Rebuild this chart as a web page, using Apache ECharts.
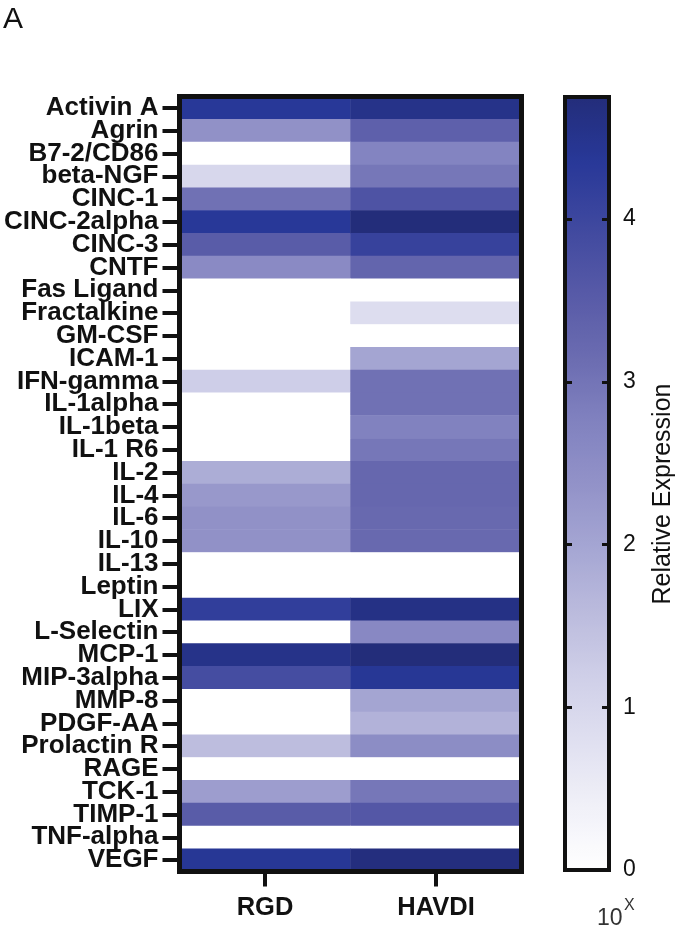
<!DOCTYPE html>
<html>
<head>
<meta charset="utf-8">
<script src="https://cdn.jsdelivr.net/npm/echarts@6/dist/echarts.min.js"></script>
<style>
html,body{margin:0;padding:0;background:#fff;}
#chart{width:688px;height:934px;}
</style>
</head>
<body>
<div id="chart"></div>
<script>
const categories = ['Activin A','Agrin','B7-2/CD86','beta-NGF','CINC-1','CINC-2alpha','CINC-3','CNTF','Fas Ligand','Fractalkine','GM-CSF','ICAM-1','IFN-gamma','IL-1alpha','IL-1beta','IL-1 R6','IL-2','IL-4','IL-6','IL-10','IL-13','Leptin','LIX','L-Selectin','MCP-1','MIP-3alpha','MMP-8','PDGF-AA','Prolactin R','RAGE','TCK-1','TIMP-1','TNF-alpha','VEGF'];
const groups = ['RGD','HAVDI'];
const rgdValues   = [4.35,2.4,0,1.0,3.05,4.35,3.5,2.55,0,0,0,0,1.2,0,0,0,1.85,2.25,2.4,2.4,0,0,4.2,0,4.55,3.85,0,0,1.55,0,2.15,3.5,0,4.4];
const havdiValues = [4.55,3.4,2.7,2.95,3.7,4.75,4.1,3.3,0,0.85,0,2.0,3.05,3.05,2.75,2.95,3.25,3.25,3.2,3.2,0,0,4.6,2.6,4.75,4.4,2.0,1.75,2.5,0,2.95,3.6,0,4.7];
const colorMax = 4.75;
const palette = ['#ffffff','#f0f0f8','#e0e0f0','#cfcfe8','#bbbbdd','#a5a6d3','#9292c8','#8081bf','#6a6bb0','#5659a7','#3f489f','#283898','#232d7a'];

const data = [];
categories.forEach((c, i) => {
  data.push([0, i, rgdValues[i]]);
  data.push([1, i, havdiValues[i]]);
});

const chart = echarts.init(document.getElementById('chart'));
const font = 'Liberation Sans, Arial, sans-serif';
chart.setOption({
  animation: false,
  backgroundColor: '#fff',
  grid: [
    {left: 179.5, top: 96.5, width: 342, height: 775, show: true, borderColor: '#111', borderWidth: 5, backgroundColor: 'transparent', z: 5},
    {left: 565, top: 97, width: 44, height: 773, show: true, borderColor: '#111', borderWidth: 4, backgroundColor: 'transparent', zlevel: 1, z: 10}
  ],
  xAxis: [
    {type: 'category', data: groups, gridIndex: 0, position: 'bottom',
     axisLine: {show: false},
     axisTick: {show: true, alignWithLabel: true, length: 15, lineStyle: {color: '#111', width: 4}},
     axisLabel: {margin: 23, fontFamily: font, fontWeight: 'bold', fontSize: 25.5, color: '#111'},
     splitLine: {show: false}},
    {type: 'value', gridIndex: 1, show: false, min: 0, max: 1}
  ],
  yAxis: [
    {type: 'category', data: categories, inverse: true, gridIndex: 0,
     axisLine: {show: false},
     axisTick: {show: true, alignWithLabel: true, length: 17, lineStyle: {color: '#111', width: 4}},
     axisLabel: {interval: 0, margin: 21, fontFamily: font, fontWeight: 'bold', fontSize: 26, color: '#111'},
     splitLine: {show: false}},
    {type: 'value', gridIndex: 1, position: 'right', min: 0, max: colorMax, interval: 1, zlevel: 1, z: 12,
     axisLine: {show: false, onZero: false},
     axisTick: {show: true, inside: true, length: 7, lineStyle: {color: '#111', width: 3}},
     axisLabel: {margin: 14, fontFamily: font, fontSize: 23, color: '#111', showMaxLabel: false},
     splitLine: {show: false}},
    {type: 'value', gridIndex: 1, position: 'left', min: 0, max: colorMax, interval: 1, zlevel: 1, z: 12,
     axisLine: {show: false, onZero: false},
     axisTick: {show: true, inside: true, length: 7, lineStyle: {color: '#111', width: 3}},
     axisLabel: {show: false},
     splitLine: {show: false}}
  ],
  visualMap: {
    type: 'continuous', min: 0, max: colorMax, calculable: false, orient: 'vertical',
    left: 565, top: 97, itemWidth: 44, itemHeight: 773, padding: 0, text: null, showLabel: false,
    seriesIndex: 0, z: 1,
    inRange: {color: palette},
    textStyle: {color: 'transparent'}
  },
  series: [{
    type: 'heatmap', xAxisIndex: 0, yAxisIndex: 0, data: data,
    itemStyle: {borderWidth: 0},
    emphasis: {disabled: true}
  }],
  graphic: [
    {type: 'text', left: 3, top: 5, style: {text: 'A', font: '30px ' + font, fill: '#111'}},
    {type: 'text', x: 663, y: 494, rotation: Math.PI / 2,
     style: {text: 'Relative Expression', font: '25px ' + font, fill: '#111', align: 'center', verticalAlign: 'middle'}},
    {type: 'text', left: 597, top: 907, style: {text: '10', font: '23px ' + font, fill: '#333'}},
    {type: 'text', left: 624, top: 898, style: {text: 'X', font: '16px ' + font, fill: '#333'}}
  ]
});
</script>
</body>
</html>
